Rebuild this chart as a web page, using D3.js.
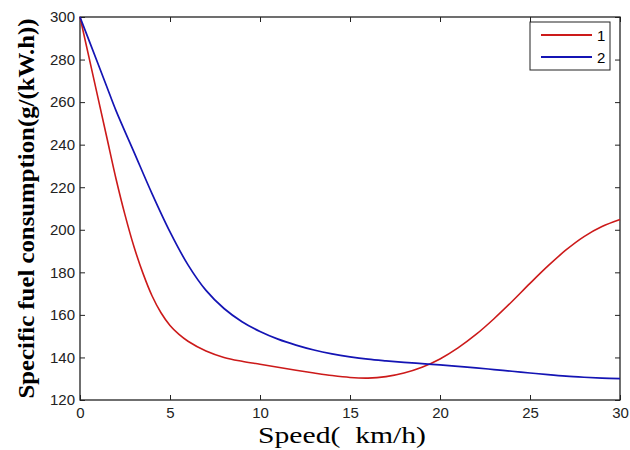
<!DOCTYPE html>
<html>
<head>
<meta charset="utf-8">
<script src="https://cdn.jsdelivr.net/npm/d3@7"></script>
<style>
  body { margin: 0; background: #fff; }
</style>
</head>
<body>
<div id="chart"></div>
<script>
// data
const speed1 = [0, 0.5, 1, 1.5, 2, 2.5, 3, 3.5, 4, 4.5, 5, 5.5, 6, 7, 8, 9, 10, 11, 12, 13, 14, 15, 16, 17, 18, 19, 20, 21, 22, 23, 24, 25, 26, 27, 28, 29, 30];
const fuel1  = [300, 281, 262, 243, 224, 207, 192, 179.5, 169, 161, 155, 150.8, 147.6, 143, 140, 138.2, 136.8, 135.4, 134, 132.7, 131.5, 130.6, 130.3, 131, 132.7, 135.4, 139.3, 144.5, 150.8, 158.2, 166.3, 174.8, 183, 190.5, 196.8, 201.5, 204.8];

const speed2 = [0, 0.5, 1, 1.5, 2, 3, 4, 5, 6, 7, 8, 9, 10, 11, 12, 13, 14, 15, 16, 17, 18, 19, 20, 21, 22, 23, 24, 25, 26, 27, 28, 29, 30];
const fuel2  = [300, 289, 278, 267, 256, 236.5, 217, 199, 183.5, 171.5, 163, 156.8, 152.2, 148.6, 145.8, 143.5, 141.7, 140.3, 139.2, 138.4, 137.7, 137.1, 136.5, 135.8, 135.1, 134.3, 133.5, 132.7, 131.9, 131.2, 130.7, 130.3, 130];

const seriesNames = ["1", "2"];
const seriesColors = ["#cc1a1a", "#1414b4"];
const xTicks = [0, 5, 10, 15, 20, 25, 30];
const yTicks = [120, 140, 160, 180, 200, 220, 240, 260, 280, 300];

// set the dimensions and margins of the graph
const margin = {top: 17, right: 10, bottom: 50, left: 80},
    width = 630 - margin.left - margin.right,
    height = 450 - margin.top - margin.bottom;

const svg = d3.select("#chart")
  .append("svg")
    .attr("width", width + margin.left + margin.right)
    .attr("height", height + margin.top + margin.bottom)
  .append("g")
    .attr("transform", `translate(${margin.left}, ${margin.top})`);

const x = d3.scaleLinear().domain([0, 30]).range([0, width]);
const y = d3.scaleLinear().domain([120, 300]).range([height, 0]);

// axes, matlab style: ticks pointing inwards on all four sides
const tickFont = "'Liberation Sans', Arial, sans-serif";
const serif = "'Liberation Serif', 'Times New Roman', serif";

svg.append("g")
  .attr("transform", `translate(0, ${height})`)
  .call(d3.axisBottom(x).tickValues(xTicks).tickSize(-5).tickPadding(7))
  .call(g => g.select(".domain").remove())
  .selectAll("text")
    .style("font-family", tickFont)
    .style("font-size", "15px")
    .attr("fill", "#222");

svg.append("g")
  .call(d3.axisLeft(y).tickValues(yTicks).tickSize(-5).tickPadding(5))
  .call(g => g.select(".domain").remove())
  .selectAll("text")
    .style("font-family", tickFont)
    .style("font-size", "15px")
    .attr("fill", "#222");

svg.append("g")
  .call(d3.axisTop(x).tickValues(xTicks).tickSize(-5).tickFormat(""))
  .call(g => g.select(".domain").remove());

svg.append("g")
  .attr("transform", `translate(${width}, 0)`)
  .call(d3.axisRight(y).tickValues(yTicks).tickSize(-5).tickFormat(""))
  .call(g => g.select(".domain").remove());

svg.selectAll(".tick line").attr("stroke", "#222");

svg.append("rect")
  .attr("width", width)
  .attr("height", height)
  .attr("fill", "none")
  .attr("stroke", "#222")
  .attr("stroke-width", 1.3);

// lines
const line = d3.line()
  .x(d => x(d[0]))
  .y(d => y(d[1]))
  .curve(d3.curveCatmullRom.alpha(0.5));

svg.append("path")
  .datum(speed1.map((s, i) => [s, fuel1[i]]))
  .attr("fill", "none")
  .attr("stroke", seriesColors[0])
  .attr("stroke-width", 1.6)
  .attr("d", line);

svg.append("path")
  .datum(speed2.map((s, i) => [s, fuel2[i]]))
  .attr("fill", "none")
  .attr("stroke", seriesColors[1])
  .attr("stroke-width", 1.7)
  .attr("d", line);

// axis labels
svg.append("text")
  .attr("x", 262)
  .attr("y", height + 43)
  .attr("text-anchor", "middle")
  .attr("textLength", 168)
  .attr("lengthAdjust", "spacingAndGlyphs")
  .style("font-family", serif)
  .style("font-size", "23px")
  .style("white-space", "pre")
  .text("Speed(\u00a0\u00a0km/h)");

svg.append("text")
  .attr("transform", `translate(${-margin.left + 34}, ${height / 2}) rotate(-90)`)
  .attr("text-anchor", "middle")
  .attr("textLength", 380)
  .attr("lengthAdjust", "spacingAndGlyphs")
  .style("font-family", serif)
  .style("font-size", "23px")
  .style("font-weight", "bold")
  .text("Specific fuel consumption(g/(kW.h))");

// legend
const legend = svg.append("g")
  .attr("transform", `translate(${width - 90}, 5)`);

legend.append("rect")
  .attr("width", 80)
  .attr("height", 48)
  .attr("fill", "#fff")
  .attr("stroke", "#222")
  .attr("stroke-width", 1);

seriesNames.forEach((name, i) => {
  legend.append("line")
    .attr("x1", 11).attr("x2", 62)
    .attr("y1", 13 + i * 22).attr("y2", 13 + i * 22)
    .attr("stroke", seriesColors[i])
    .attr("stroke-width", 2);
  legend.append("text")
    .attr("x", 67)
    .attr("y", 14 + i * 22)
    .attr("dy", "0.35em")
    .style("font-family", tickFont)
    .style("font-size", "15px")
    .text(name);
});
</script>
</body>
</html>
